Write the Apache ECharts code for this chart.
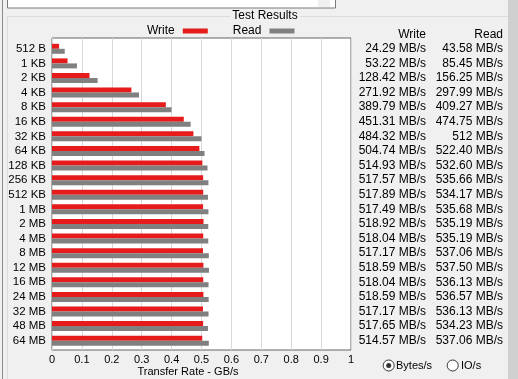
<!DOCTYPE html>
<html>
<head>
<meta charset="utf-8">
<script src="https://cdn.jsdelivr.net/npm/echarts@6/dist/echarts.min.js"></script>
<style>
html,body{margin:0;padding:0;background:#f0f0f0;}
#chart{width:518px;height:379px;}
</style>
</head>
<body>
<div id="chart"></div>
<script>
const categories = ['512 B','1 KB','2 KB','4 KB','8 KB','16 KB','32 KB','64 KB','128 KB','256 KB','512 KB','1 MB','2 MB','4 MB','8 MB','12 MB','16 MB','24 MB','32 MB','48 MB','64 MB'];
const writeMBs = [24.29,53.22,128.42,271.92,389.79,451.31,484.32,504.74,514.93,517.57,517.89,517.49,518.92,518.04,517.17,518.59,518.04,518.59,517.17,517.65,514.57];
const readMBs = [43.58,85.45,156.25,297.99,409.27,474.75,512,522.40,532.60,535.66,534.17,535.68,535.19,535.19,537.06,537.50,536.13,536.57,536.13,534.23,537.06];
const xTicks = [0,0.1,0.2,0.3,0.4,0.5,0.6,0.7,0.8,0.9,1];

const fmt = v => (Number.isInteger(v) ? String(v) : v.toFixed(2)) + ' MB/s';
const FONT = 'Liberation Sans';

const chart = echarts.init(document.getElementById('chart'), null, {renderer:'canvas'});
chart.setOption({
  animation: false,
  backgroundColor: '#f0f0f0',
  textStyle: {fontFamily: FONT},
  legend: {
    left: 147, top: 25, padding: 0,
    icon: 'rect', itemWidth: 25, itemHeight: 5, itemGap: 25, align: 'right',
    textStyle: {fontSize: 12, color: '#000', fontFamily: FONT, padding: [0, 3, 0, 0]},
    data: ['Write', 'Read']
  },
  grid: [
    {left: 52, top: 38, width: 299, height: 312, show: true, backgroundColor: '#ffffff', borderColor: '#646464', borderWidth: 1},
    {left: 52, top: 41.5, width: 299, height: 306.5}
  ],
  xAxis: [
    {gridIndex: 0, type: 'value', min: xTicks[0], max: xTicks[xTicks.length-1], interval: 0.1,
     axisLine: {show: false}, axisTick: {show: false},
     splitLine: {show: true, lineStyle: {color: '#d9d9d9', width: 1}},
     axisLabel: {fontSize: 11, color: '#000', fontFamily: FONT, margin: 4,
       formatter: v => { const t = xTicks.find(x => Math.abs(x - v) < 1e-9); return t === undefined ? '' : String(t); }}},
    {gridIndex: 1, type: 'value', min: 0, max: 1, show: false}
  ],
  yAxis: [
    {gridIndex: 0, type: 'value', show: false},
    {gridIndex: 1, type: 'category', inverse: true, data: categories,
     axisLine: {show: false}, axisTick: {show: false}, splitLine: {show: false},
     axisLabel: {interval: 0, fontSize: 11.5, color: '#000', fontFamily: FONT, margin: 6}},
    {gridIndex: 1, type: 'category', inverse: true, data: categories, position: 'right', offset: 0,
     axisLine: {show: false}, axisTick: {show: false}, splitLine: {show: false},
     axisLabel: {interval: 0, fontSize: 12, color: '#000', fontFamily: FONT, margin: 75, align: 'right',
       formatter: (v, i) => fmt(writeMBs[i])}},
    {gridIndex: 1, type: 'category', inverse: true, data: categories, position: 'right', offset: 77,
     axisLine: {show: false}, axisTick: {show: false}, splitLine: {show: false},
     axisLabel: {interval: 0, fontSize: 12, color: '#000', fontFamily: FONT, margin: 75, align: 'right',
       formatter: (v, i) => fmt(readMBs[i])}}
  ],
  series: [
    {name: 'Write', type: 'bar', xAxisIndex: 1, yAxisIndex: 1, barWidth: 5, barGap: '0%',
     itemStyle: {color: '#e61b1b'}, data: writeMBs.map(v => v / 1024)},
    {name: 'Read', type: 'bar', xAxisIndex: 1, yAxisIndex: 1, barWidth: 5, barGap: '0%',
     itemStyle: {color: '#808080'}, data: readMBs.map(v => v / 1024)}
  ],
  graphic: [
    {type: 'rect', silent: true, z: -1, shape: {x: 2, y: 0, width: 1, height: 379}, style: {fill: '#8c8c8c'}},
    {type: 'rect', silent: true, z: -1, shape: {x: 508, y: 0, width: 10, height: 379}, style: {fill: '#d0d0d0'}},
    {type: 'rect', silent: true, z: -1, shape: {x: 7.5, y: -2, width: 328, height: 10}, style: {fill: '#ffffff', stroke: '#7a7a7a', lineWidth: 1}},
    {type: 'rect', silent: true, z: -1, shape: {x: 318, y: -1, width: 12, height: 8}, style: {fill: '#f0f0f0'}},
    {type: 'line', silent: true, z: -1, shape: {x1: 7, y1: 16.5, x2: 508, y2: 16.5}, style: {stroke: '#dcdcdc', lineWidth: 1}},
    {type: 'line', silent: true, z: -1, shape: {x1: 7.5, y1: 16, x2: 7.5, y2: 379}, style: {stroke: '#dcdcdc', lineWidth: 1}},
    {type: 'text', silent: true, z: 5, x: 265, y: 16, style: {text: 'Test Results', fill: '#000', font: '12px "Liberation Sans"', align: 'center', verticalAlign: 'middle', backgroundColor: '#f0f0f0', padding: [0, 2]}},
    {type: 'text', silent: true, z: 5, x: 426, y: 35, style: {text: 'Write', fill: '#000', font: '12px "Liberation Sans"', align: 'right', verticalAlign: 'middle'}},
    {type: 'text', silent: true, z: 5, x: 503, y: 35, style: {text: 'Read', fill: '#000', font: '12px "Liberation Sans"', align: 'right', verticalAlign: 'middle'}},
    {type: 'text', silent: true, z: 5, x: 188, y: 372, style: {text: 'Transfer Rate - GB/s', fill: '#000', font: '11px "Liberation Sans"', align: 'center', verticalAlign: 'middle'}},
    {type: 'circle', silent: true, z: 5, shape: {cx: 388.7, cy: 365.5, r: 5.5}, style: {fill: '#fff', stroke: '#333', lineWidth: 1}},
    {type: 'circle', silent: true, z: 6, shape: {cx: 388.7, cy: 365.5, r: 2.5}, style: {fill: '#333'}},
    {type: 'text', silent: true, z: 5, x: 396, y: 366, style: {text: 'Bytes/s', fill: '#000', font: '11px "Liberation Sans"', align: 'left', verticalAlign: 'middle'}},
    {type: 'circle', silent: true, z: 5, shape: {cx: 452.7, cy: 365.5, r: 5.5}, style: {fill: '#fff', stroke: '#333', lineWidth: 1}},
    {type: 'text', silent: true, z: 5, x: 461, y: 366, style: {text: 'IO/s', fill: '#000', font: '11px "Liberation Sans"', align: 'left', verticalAlign: 'middle'}}
  ]
});
</script>
</body>
</html>
